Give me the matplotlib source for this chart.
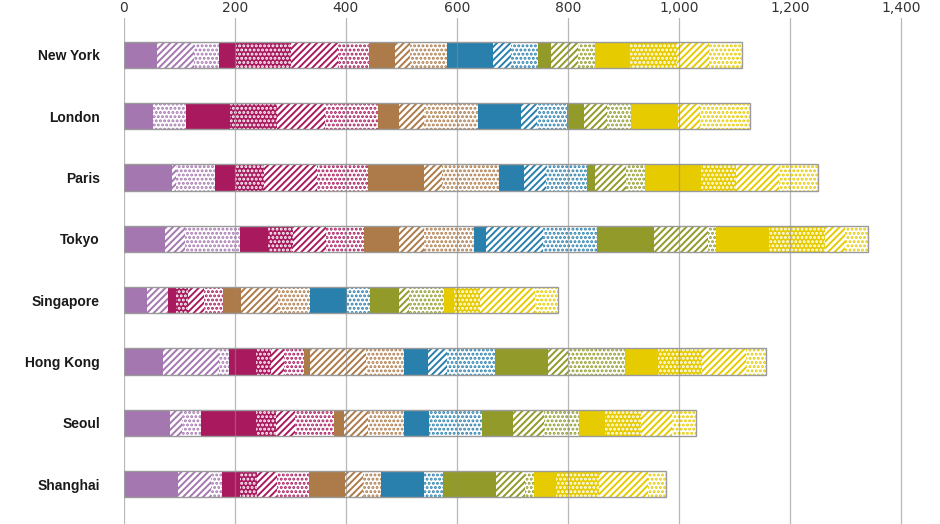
import matplotlib
matplotlib.use("Agg")
import matplotlib.pyplot as plt
import numpy as np

cities = ["New York", "London", "Paris", "Tokyo", "Singapore", "Hong Kong", "Seoul", "Shanghai"]
xticks = [0, 200, 400, 600, 800, 1000, 1200, 1400]

# Each colour group is split into four parts: solid, dense dots, diagonal hatch, light dots
purple_solid = [61, 53, 87, 74, 43, 71, 84, 98]
purple_dense = [0, 0, 0, 0, 0, 0, 0, 0]
purple_hatch = [66, 0, 7, 36, 37, 101, 22, 59]
purple_dots = [45, 59, 71, 99, 0, 17, 34, 21]

magenta_solid = [30, 80, 35, 51, 15, 49, 98, 31]
magenta_dense = [100, 85, 53, 45, 21, 27, 36, 32]
magenta_hatch = [84, 86, 96, 60, 28, 24, 34, 35]
magenta_dots = [56, 95, 91, 67, 35, 36, 70, 58]

brown_solid = [46, 37, 101, 63, 33, 11, 18, 65]
brown_dense = [0, 0, 0, 0, 0, 0, 0, 0]
brown_hatch = [28, 45, 33, 45, 66, 100, 44, 32]
brown_dots = [66, 98, 102, 91, 58, 69, 64, 32]

blue_solid = [83, 78, 45, 22, 67, 43, 46, 77]
blue_dense = [0, 0, 0, 0, 0, 0, 0, 0]
blue_hatch = [32, 29, 39, 102, 0, 34, 0, 0]
blue_dots = [49, 53, 74, 97, 41, 86, 95, 35]

green_solid = [23, 30, 14, 102, 51, 96, 56, 95]
green_dense = [0, 0, 0, 0, 0, 0, 0, 0]
green_hatch = [49, 42, 57, 98, 18, 36, 56, 52]
green_dots = [31, 44, 33, 14, 64, 102, 62, 17]

yellow_solid = [63, 84, 101, 96, 17, 59, 48, 39]
yellow_dense = [84, 0, 64, 100, 48, 80, 64, 77]
yellow_hatch = [57, 40, 77, 36, 98, 80, 56, 89]
yellow_dots = [60, 89, 70, 41, 41, 36, 43, 32]

groups = [
    ("#a577b0", [purple_solid, purple_dense, purple_hatch, purple_dots]),
    ("#a8195e", [magenta_solid, magenta_dense, magenta_hatch, magenta_dots]),
    ("#ad7b4a", [brown_solid, brown_dense, brown_hatch, brown_dots]),
    ("#2a80ad", [blue_solid, blue_dense, blue_hatch, blue_dots]),
    ("#929b29", [green_solid, green_dense, green_hatch, green_dots]),
    ("#e6cb00", [yellow_solid, yellow_dense, yellow_hatch, yellow_dots]),
]
styles = ["solid", "dense", "hatch", "dots"]

plt.rcParams["hatch.linewidth"] = 1.4

W, H = 940, 524
fig = plt.figure(figsize=(W / 100, H / 100), dpi=100)
ax = fig.add_axes([123.5 / W, 0, (W - 123.5) / W, (H - 18) / H])

y = np.arange(len(cities))
bar_h = 0.43
left = np.zeros(len(cities))
for color, parts in groups:
    for style, vals in zip(styles, parts):
        vals = np.asarray(vals, dtype=float)
        if style == "solid":
            kw = dict(facecolor=color, edgecolor=color, linewidth=0)
        elif style == "dense":
            kw = dict(facecolor=color, edgecolor="white", hatch="....", linewidth=0)
        elif style == "hatch":
            kw = dict(facecolor="white", edgecolor=color, hatch="/////", linewidth=0)
        else:
            kw = dict(facecolor="white", edgecolor=color, hatch="....", linewidth=0)
        ax.barh(y, vals, left=left, height=bar_h, zorder=2, **kw)
        left += vals

# thin grey frame round each whole bar
ax.barh(y, left, height=bar_h, facecolor="none", edgecolor="#9a9a9a", linewidth=1.0, zorder=4)

ax.set_xlim(0, (W - 123.5) / 0.5557)
ax.set_ylim(7.65, -0.6)

ax.xaxis.tick_top()
ax.set_xticks(xticks)
ax.set_xticklabels([f"{v:,}" for v in xticks], fontsize=10, color="#333333",
                   family=["Liberation Sans Narrow", "DejaVu Sans"])
ax.tick_params(axis="x", length=0, pad=2)
ax.set_yticks(y)
ax.set_yticklabels(cities, fontsize=10, fontweight="bold", color="#1a1a1a",
                   family=["Liberation Sans", "DejaVu Sans"])
ax.tick_params(axis="y", length=0, pad=17)

ax.set_axisbelow(False)
ax.xaxis.grid(True, color="#8a8a8a", alpha=0.6, linewidth=0.9)
ax.yaxis.grid(False)
for s in ax.spines.values():
    s.set_visible(False)

fig.savefig("out.png", dpi=100)
